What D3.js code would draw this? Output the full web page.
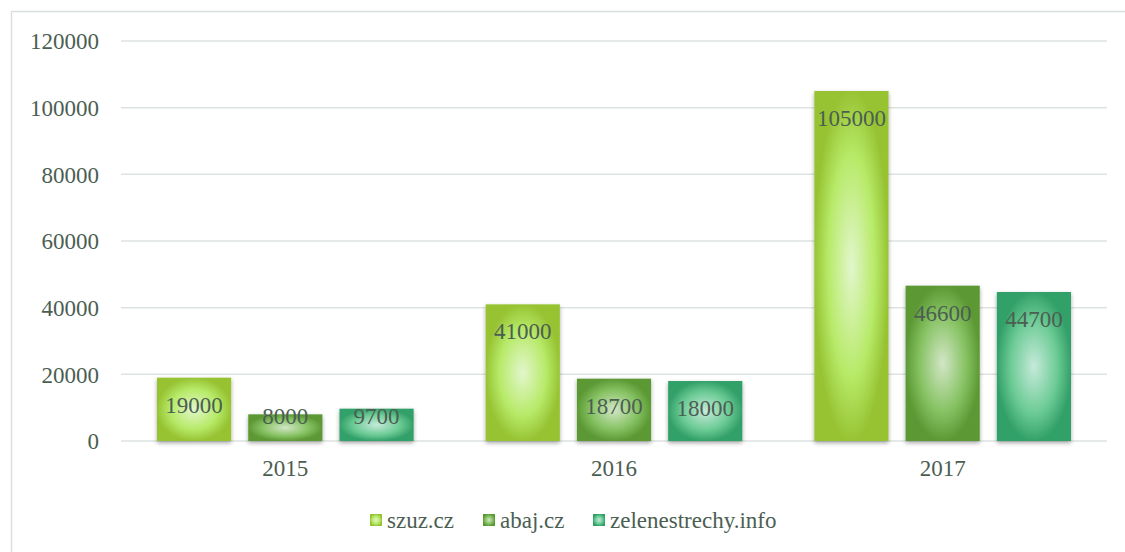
<!DOCTYPE html>
<html>
<head>
<meta charset="utf-8">
<script src="https://cdn.jsdelivr.net/npm/d3@7"></script>
<style>
  html, body { margin: 0; padding: 0; background: #fff; overflow: hidden; }
  svg { display: block; }
  svg text { font-family: 'Liberation Serif', 'Times New Roman', Times, 'DejaVu Serif', serif !important; fill: #4b5e52; }
</style>
</head>
<body>
<svg id="chart" width="1125" height="552"></svg>
<script>
const categories = ["2015", "2016", "2017"];
const seriesNames = ["szuz.cz", "abaj.cz", "zelenestrechy.info"];
const szuz = [19000, 41000, 105000];
const abaj = [8000, 18700, 46600];
const zelene = [9700, 18000, 44700];
const yTicks = [0, 20000, 40000, 60000, 80000, 100000, 120000];
const seriesValues = [szuz, abaj, zelene];

(function () {
const palettes = [
  { edge: "#97c333", mid: "#b7ea68", center: "#e2f6cc" },
  { edge: "#5c9934", mid: "#86c262", center: "#d2e6c6" },
  { edge: "#33a069", mid: "#6ccb95", center: "#c6eada" }
];

const svg = d3.select("#chart");
const W = 1125, H = 552;
const pLeft = 121, pRight = 1107, pTop = 41, pBottom = 441;
const FONT = "'Liberation Serif', 'Times New Roman', Times, 'DejaVu Serif', serif";

const defs = svg.append("defs");
palettes.forEach((p, i) => {
  const g = defs.append("radialGradient").attr("id", "grad" + i)
    .attr("cx", "50%").attr("cy", "50%").attr("r", "70%");
  g.append("stop").attr("offset", "0%").attr("stop-color", p.center);
  g.append("stop").attr("offset", "45%").attr("stop-color", p.mid);
  g.append("stop").attr("offset", "72%").attr("stop-color", p.edge);
});
const f = defs.append("filter").attr("id", "shadow")
  .attr("x", "-20%").attr("y", "-10%").attr("width", "140%").attr("height", "130%");
f.append("feDropShadow").attr("dx", 0).attr("dy", 2).attr("stdDeviation", 2)
  .attr("flood-color", "#000").attr("flood-opacity", 0.35);

// frame
svg.append("rect").attr("x", 11.5).attr("y", 11.5).attr("width", W + 20).attr("height", H + 20)
  .attr("fill", "none").attr("stroke", "#d9dfdd").attr("stroke-width", 1.5);

const x = d3.scaleBand().domain(categories).range([pLeft, pRight]).paddingInner(0).paddingOuter(0);
const bw = x.bandwidth();
const xs = d3.scaleBand().domain(seriesNames).range([36, bw - 36]).paddingInner(0.187).paddingOuter(0);
const y = d3.scaleLinear().domain([0, 120000]).range([pBottom, pTop]);

// gridlines
svg.append("g").selectAll("line").data(yTicks).join("line")
  .attr("x1", pLeft).attr("x2", pRight)
  .attr("y1", d => y(d)).attr("y2", d => y(d))
  .attr("stroke", "#dde3e1").attr("stroke-width", 1.5);

// y axis labels
const yAxis = d3.axisLeft(y).tickValues(yTicks).tickSize(0).tickPadding(0).tickFormat(d3.format("d"));
const gy = svg.append("g").attr("transform", "translate(99,0)").call(yAxis)
  .attr("font-family", FONT).attr("font-size", 23);
gy.select(".domain").remove();
gy.selectAll("text").style("font-family", FONT).attr("font-size", 23)
  .attr("fill", "#4b5e52").attr("dy", "0.34em");

// x axis labels
const xAxis = d3.axisBottom(x).tickSize(0).tickPadding(0);
const gx = svg.append("g").attr("transform", "translate(0,459)").call(xAxis)
  .attr("font-family", FONT).attr("font-size", 23);
gx.select(".domain").remove();
gx.selectAll("text").style("font-family", FONT).attr("font-size", 23)
  .attr("fill", "#4b5e52").attr("dy", "0.72em");

// bars
const data = [];
categories.forEach((c, ci) => {
  seriesNames.forEach((s, si) => {
    data.push({ c, s, si, v: seriesValues[si][ci] });
  });
});

svg.append("g").selectAll("rect").data(data).join("rect")
  .attr("x", d => x(d.c) + xs(d.s))
  .attr("y", d => y(d.v))
  .attr("width", xs.bandwidth())
  .attr("height", d => y(0) - y(d.v))
  .attr("fill", d => `url(#grad${d.si})`)
  .attr("filter", "url(#shadow)");

svg.append("g").selectAll("text").data(data).join("text")
  .attr("x", d => x(d.c) + xs(d.s) + xs.bandwidth() / 2)
  .attr("y", d => Math.min(y(d.v) + 35, 424))
  .attr("text-anchor", "middle")
  .style("font-family", FONT)
  .attr("font-size", 23)
  .text(d => d.v);

// legend
const legendX = [370, 483, 593];
const lg = svg.append("g");
seriesNames.forEach((name, i) => {
  lg.append("rect").attr("x", legendX[i]).attr("y", 514).attr("width", 12).attr("height", 12)
    .attr("fill", `url(#grad${i})`);
  lg.append("text").attr("x", legendX[i] + 17).attr("y", 528).attr("font-size", 23)
    .style("font-family", FONT).text(name);
});
})();
</script>
</body>
</html>
